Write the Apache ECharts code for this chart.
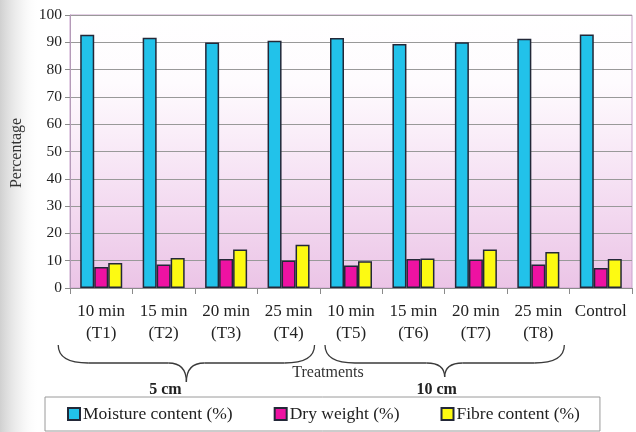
<!DOCTYPE html>
<html>
<head>
<meta charset="utf-8">
<script src="https://cdn.jsdelivr.net/npm/echarts@6/dist/echarts.min.js"></script>
<style>
  html, body { margin: 0; padding: 0; background: #ffffff; }
  #chart { width: 636px; height: 432px; }
</style>
</head>
<body>
<div id="chart"></div>
<script>
// Treatment categories (blanching time / treatment code)
const categories = [
  '10 min\n(T1)', '15 min\n(T2)', '20 min\n(T3)', '25 min\n(T4)',
  '10 min\n(T5)', '15 min\n(T6)', '20 min\n(T7)', '25 min\n(T8)', 'Control'
];

// Measured percentages per treatment
const moisture  = [92.8, 91.7, 89.9, 90.6, 91.6, 89.4, 90.0, 91.3, 92.9];
const dryWeight = [7.7, 8.6, 10.6, 10.1, 8.2, 10.6, 10.4, 8.6, 7.3];
const fibre     = [9.2, 11.0, 14.1, 15.8, 9.8, 10.8, 14.1, 13.2, 10.6];

const seriesNames = ['Moisture content (%)', 'Dry weight (%)', 'Fibre content (%)'];

// Cut-size groups spanning the treatment categories (first index, last index)
const groupLabels = ['5 cm', '10 cm'];
const groupRanges = [[0, 3], [4, 7]];

const SERIF = '"Liberation Serif", "Times New Roman", serif';
const colors = ['#22c2ea', '#ee12a2', '#fdfa12'];

const chart = echarts.init(document.getElementById('chart'), null, { renderer: 'canvas' });

function barSeries(name, data, color) {
  return {
    name: name,
    type: 'bar',
    data: data,
    barWidth: 14,
    barGap: '0%',
    itemStyle: { color: color, borderColor: '#232838', borderWidth: 1.5 }
  };
}

const option = {
  animation: false,
  backgroundColor: '#ffffff',
  grid: {
    left: 70, right: 4, top: 15, bottom: 144,
    show: true,
    borderColor: '#c9a3cc',
    borderWidth: 1,
    backgroundColor: {
      type: 'linear', x: 0, y: 0, x2: 0, y2: 1,
      colorStops: [
        { offset: 0, color: '#ffffff' },
        { offset: 0.25, color: '#fefbfe' },
        { offset: 0.6, color: '#f6e2f4' },
        { offset: 1, color: '#ebc4e6' }
      ]
    }
  },
  legend: {
    data: seriesNames,
    left: 45, top: 397,
    orient: 'horizontal',
    padding: [8, 20, 8, 22],
    itemGap: 41,
    itemWidth: 12, itemHeight: 12,
    icon: 'rect',
    borderColor: '#9a9a9a', borderWidth: 1,
    backgroundColor: '#ffffff',
    textStyle: { fontFamily: SERIF, fontSize: 17.5, color: '#222', padding: [0, 0, 0, -2] }
  },
  xAxis: {
    type: 'category',
    data: categories,
    axisLine: { lineStyle: { color: '#8a8a8a', width: 1 } },
    axisTick: { show: true, length: 6, alignWithLabel: false, lineStyle: { color: '#8a8a8a' } },
    axisLabel: {
      fontFamily: SERIF, fontSize: 17, color: '#222',
      lineHeight: 22, margin: 13, interval: 0
    },
    splitLine: { show: false }
  },
  yAxis: {
    type: 'value',
    min: 0, max: 100, interval: 10,
    axisLine: { show: true, lineStyle: { color: '#b49ab8', width: 1 } },
    axisTick: { show: true, length: 5, inside: false, lineStyle: { color: '#8a8a8a' } },
    axisLabel: { fontFamily: SERIF, fontSize: 15.5, color: '#222', margin: 8 },
    splitLine: { show: true, lineStyle: { color: '#999999', width: 1 } }
  },
  series: [
    barSeries(seriesNames[0], moisture, colors[0]),
    barSeries(seriesNames[1], dryWeight, colors[1]),
    barSeries(seriesNames[2], fibre, colors[2])
  ]
};

chart.setOption(option);

// Annotations: axis titles, braces grouping treatments by cut size
const braceSpread = [[43, 26], [26, 26]];
const braceTipY = [382, 377];
const labelShift = [-21, -8];
const braceTopY = 345;
const braceMidY = 363;
const braceStyle = { fill: null, stroke: '#3a3a3a', lineWidth: 1.3 };

const graphics = [
  // soft grey shade along the left page edge
  {
    type: 'rect', z: -10, silent: true,
    shape: { x: 0, y: 0, width: 40, height: 432 },
    style: {
      fill: {
        type: 'linear', x: 0, y: 0, x2: 1, y2: 0,
        colorStops: [
          { offset: 0, color: 'rgba(200,200,200,0.85)' },
          { offset: 0.5, color: 'rgba(225,225,225,0.45)' },
          { offset: 1, color: 'rgba(255,255,255,0)' }
        ]
      }
    }
  },
  {
    type: 'text', rotation: Math.PI / 2, x: 17, y: 153,
    style: {
      text: 'Percentage', font: '16px ' + SERIF, fill: '#333',
      align: 'center', verticalAlign: 'middle'
    }
  },
  {
    type: 'text', x: 328, y: 373,
    style: {
      text: 'Treatments', font: '16px ' + SERIF, fill: '#333',
      align: 'center', verticalAlign: 'middle'
    }
  }
];

function curve(xs, ys, cx, cy, xe, ye) {
  return {
    type: 'bezierCurve', silent: true,
    shape: { x1: xs, y1: ys, cpx1: cx, cpy1: cy, x2: xe, y2: ye },
    style: braceStyle
  };
}
function segment(xs, ys, xe, ye) {
  return {
    type: 'line', silent: true,
    shape: { x1: xs, y1: ys, x2: xe, y2: ye },
    style: braceStyle
  };
}

groupRanges.forEach(function (range, i) {
  const xa = chart.convertToPixel({ xAxisIndex: 0 }, categories[range[0]]);
  const xb = chart.convertToPixel({ xAxisIndex: 0 }, categories[range[1]]);
  const x0 = xa - braceSpread[i][0];
  const x1 = xb + braceSpread[i][1];
  const xm = (x0 + x1) / 2;
  const ty = braceTipY[i];
  graphics.push(curve(x0, braceTopY, x0, braceMidY, x0 + 30, braceMidY));
  graphics.push(segment(x0 + 30, braceMidY, xm - 18, braceMidY));
  graphics.push(curve(xm - 18, braceMidY, xm, braceMidY, xm, ty));
  graphics.push(curve(xm, ty, xm, braceMidY, xm + 18, braceMidY));
  graphics.push(segment(xm + 18, braceMidY, x1 - 30, braceMidY));
  graphics.push(curve(x1 - 30, braceMidY, x1, braceMidY, x1, braceTopY));
  graphics.push({
    type: 'text', x: xm + labelShift[i], y: 390,
    style: {
      text: groupLabels[i], font: 'bold 16px ' + SERIF, fill: '#222',
      align: 'center', verticalAlign: 'middle'
    }
  });
});

chart.setOption({ graphic: graphics });
</script>
</body>
</html>
